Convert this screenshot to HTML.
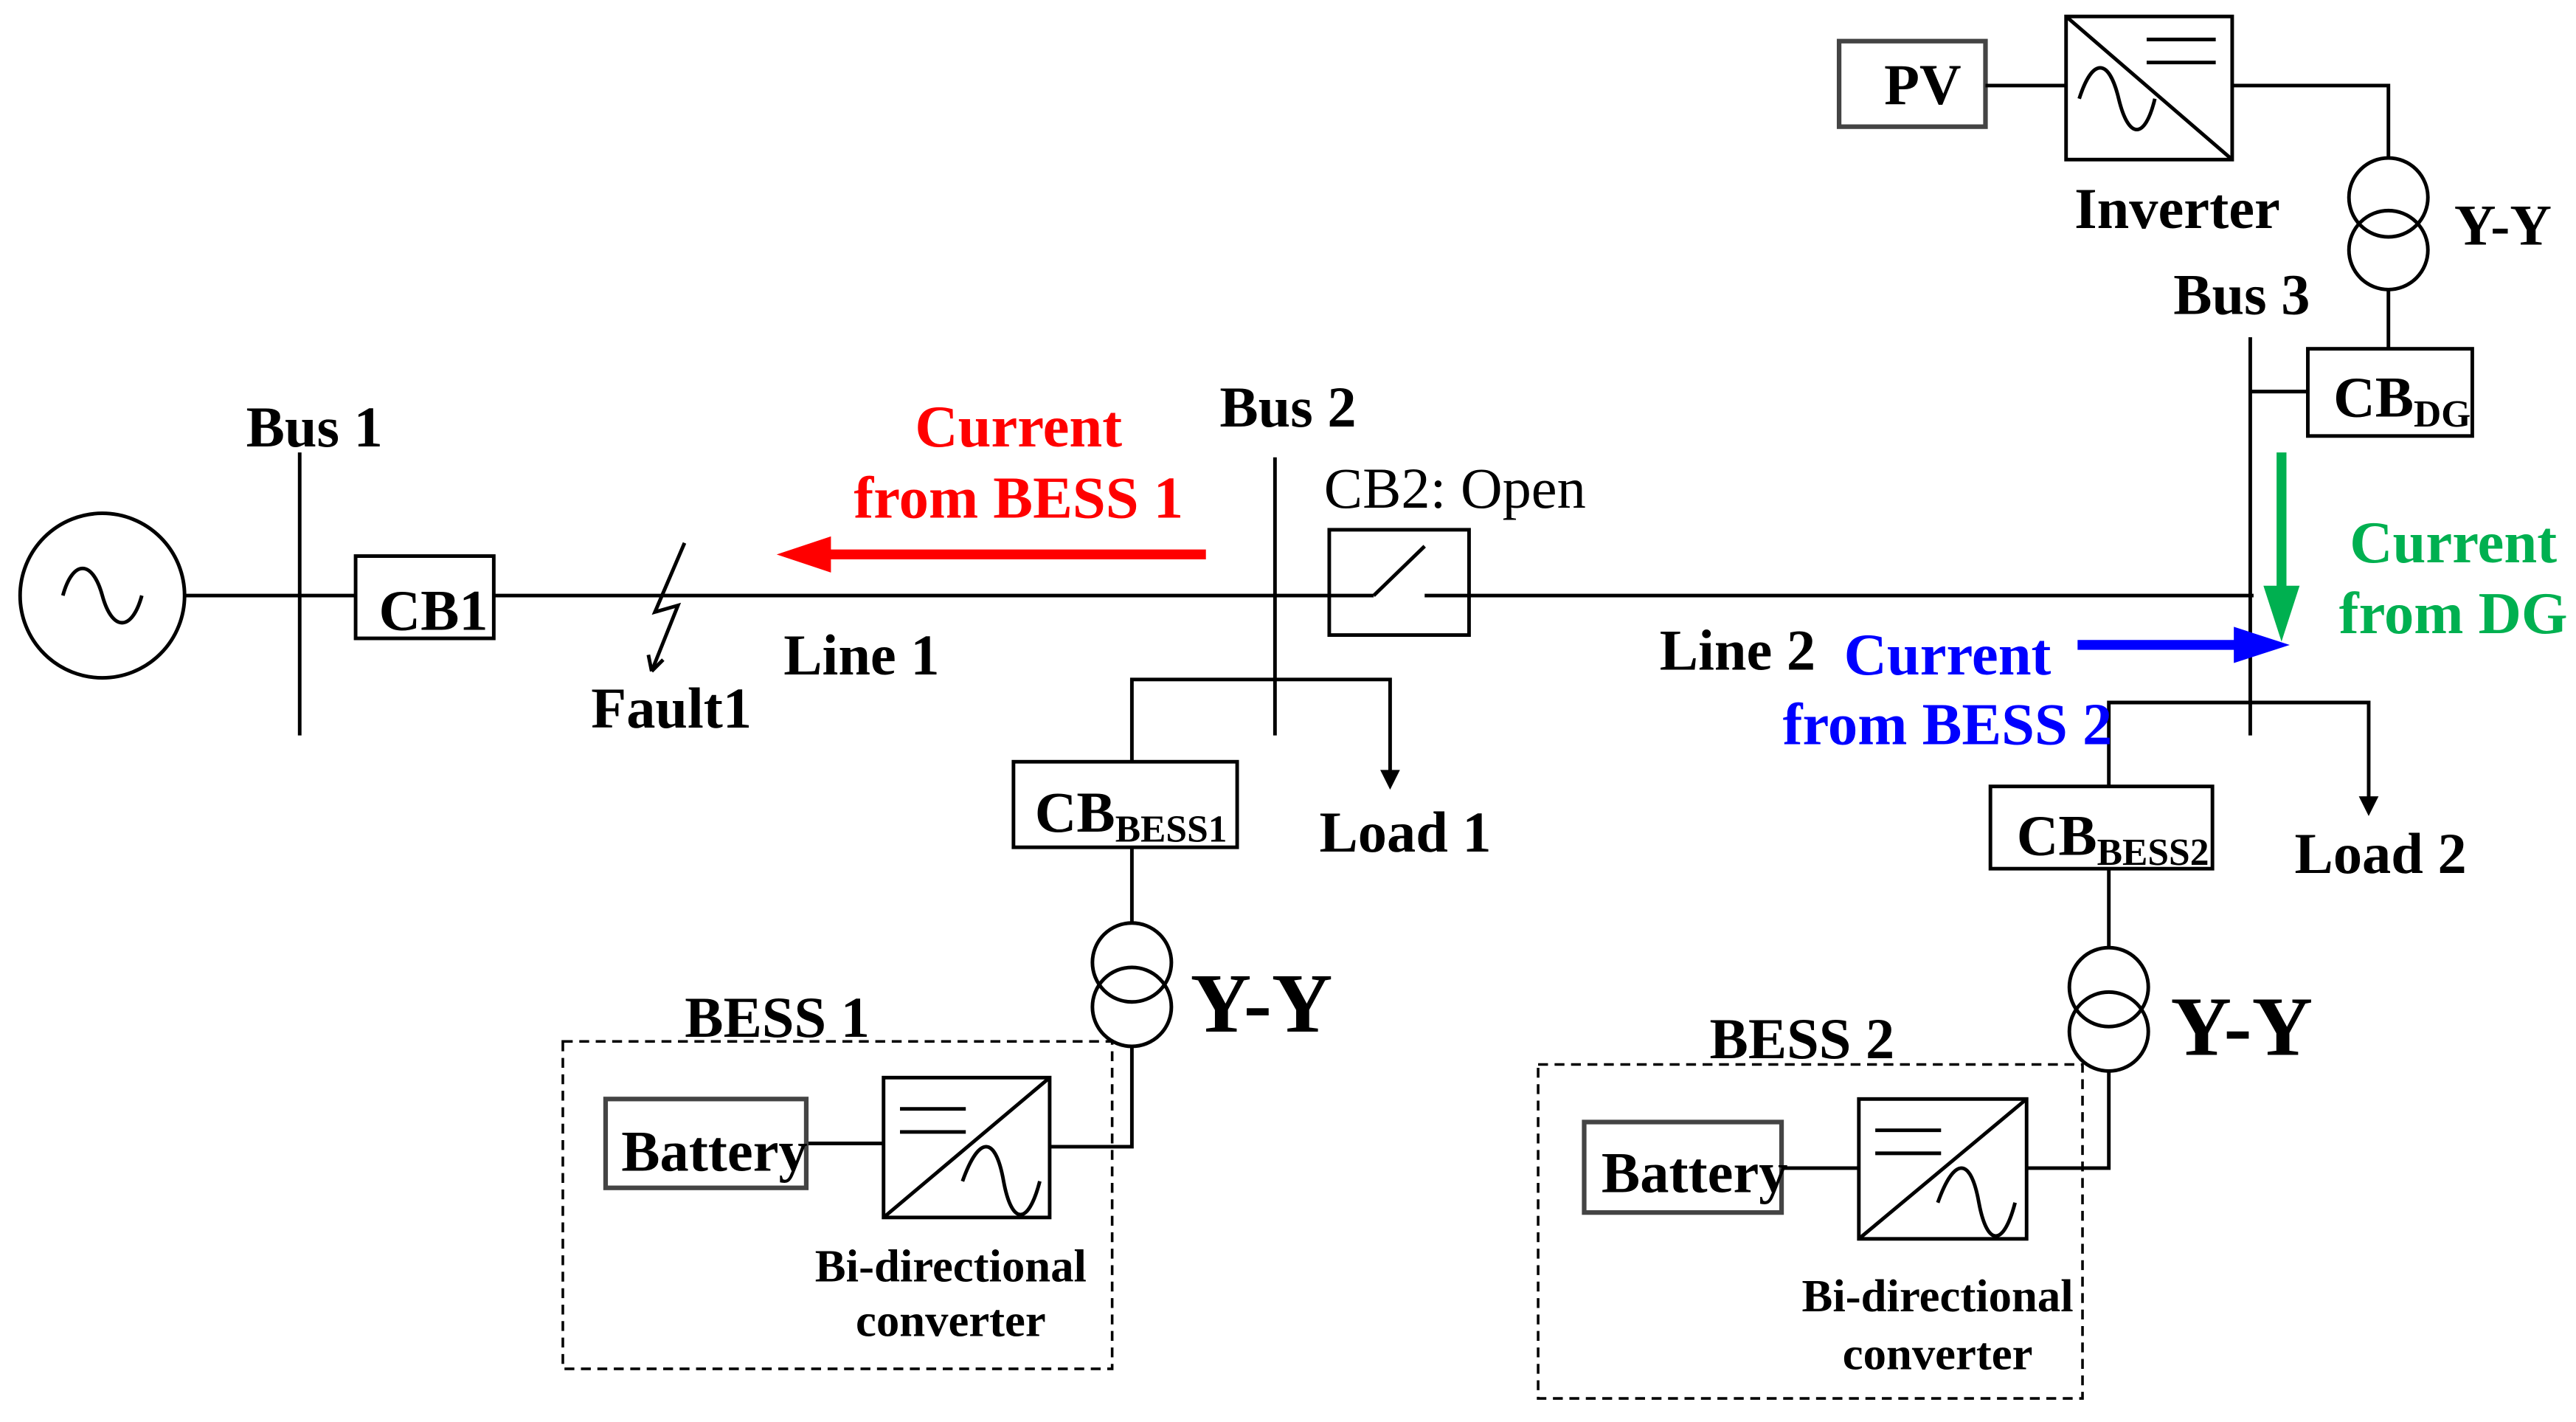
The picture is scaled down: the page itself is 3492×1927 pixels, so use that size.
<!DOCTYPE html>
<html><head><meta charset="utf-8"><style>html,body{margin:0;padding:0;background:#fff}svg{display:block}</style></head>
<body>
<svg width="3492" height="1927" viewBox="0 0 1558 860" xmlns="http://www.w3.org/2000/svg" font-family="Liberation Serif, serif" font-weight="bold">
<g transform="scale(0.995)">
<g stroke="#000" stroke-width="2.2" fill="none">
<circle cx="62" cy="362" r="50"/>
<path d="M38,362 C44,340 56,340 62,362 C68,384 80,384 86,362"/>
<line x1="112" y1="362" x2="216" y2="362"/>
<line x1="300" y1="362" x2="808" y2="362"/>
<line x1="893" y1="362" x2="1370" y2="362"/>
<line x1="182" y1="275" x2="182" y2="447"/>
<rect x="216" y="338" width="84" height="50"/>
<polyline points="416,330 398,372 412,368 396,408"/>
<path d="M396,408 l-2,-10 M396,408 l7,-7"/>
<line x1="775" y1="278" x2="775" y2="447"/>
<rect x="808" y="322" width="85" height="64"/>
<line x1="808" y1="362" x2="835" y2="362"/><line x1="866" y1="362" x2="893" y2="362"/><line x1="835" y1="362" x2="866" y2="332"/>
<polyline points="688,463 688,413 845,413 845,474"/>
<rect x="616" y="463" width="136" height="52"/>
<line x1="688" y1="515" x2="688" y2="561"/>
<circle cx="688" cy="585" r="24"/><circle cx="688" cy="612" r="24"/>
<polyline points="688,636 688,697 638,697"/>
<rect x="537" y="655" width="101" height="85"/>
<line x1="537" y1="740" x2="638" y2="655"/>
<line x1="547" y1="674" x2="587" y2="674"/><line x1="547" y1="688" x2="587" y2="688"/>
<path d="M585,718 C595,690 605,690 610,718 C615,745 625,745 632,718"/>
<rect x="368" y="668" width="122" height="54"/>
<line x1="490" y1="695" x2="537" y2="695"/>
<rect x="342" y="633" width="334" height="199" stroke-dasharray="6,4" stroke-width="1.6"/>
<line x1="1368" y1="205" x2="1368" y2="447"/>
<line x1="1368" y1="238" x2="1403" y2="238"/>
<rect x="1403" y="212" width="100" height="53"/>
<polyline points="1452,212 1452,176"/>
<circle cx="1452" cy="120" r="24"/><circle cx="1452" cy="152" r="24"/>
<polyline points="1452,96 1452,52 1357,52"/>
<rect x="1256" y="10" width="101" height="87"/>
<line x1="1256" y1="10" x2="1357" y2="97"/>
<line x1="1305" y1="24" x2="1347" y2="24"/><line x1="1305" y1="38" x2="1347" y2="38"/>
<path d="M1264,60 C1272,35 1282,35 1288,60 C1294,85 1304,85 1310,60"/>
<rect x="1118" y="25" width="89" height="52" stroke="#444" stroke-width="2.8"/>
<line x1="1207" y1="52" x2="1256" y2="52"/>
<polyline points="1282,478 1282,427 1440,427 1440,490"/>
<rect x="1210" y="478" width="135" height="50"/>
<line x1="1282" y1="528" x2="1282" y2="576"/>
<circle cx="1282" cy="600" r="24"/><circle cx="1282" cy="627" r="24"/>
<polyline points="1282,651 1282,710 1232,710"/>
<rect x="1130" y="668" width="102" height="85"/>
<line x1="1130" y1="753" x2="1232" y2="668"/>
<line x1="1140" y1="687" x2="1180" y2="687"/><line x1="1140" y1="701" x2="1180" y2="701"/>
<path d="M1178,731 C1188,703 1198,703 1203,731 C1208,758 1218,758 1225,731"/>
<rect x="963" y="682" width="120" height="55" stroke="#444" stroke-width="2.8"/>
<line x1="1083" y1="710" x2="1130" y2="710"/>
<rect x="935" y="647" width="331" height="203" stroke-dasharray="6,4" stroke-width="1.6"/>
</g>
<rect x="368" y="668" width="122" height="54" fill="none" stroke="#444" stroke-width="2.8"/>
<path d="M845,480 l-6,-12 h12 z M1440,496 l-6,-12 h12 z"/>
<g stroke-width="6" fill="none">
<line x1="733" y1="337" x2="500" y2="337" stroke="#f00"/>
<line x1="1387" y1="275" x2="1387" y2="360" stroke="#00b050"/>
<line x1="1263" y1="392" x2="1360" y2="392" stroke="#00f"/>
</g>
<path d="M472,337 L505,326 L505,348 z" fill="#f00"/>
<path d="M1387,390 L1376,356 L1398,356 z" fill="#00b050"/>
<path d="M1392,392 L1358,381 L1358,403 z" fill="#00f"/>
</g>
<g font-size="35" text-anchor="middle">
<text x="190" y="270">Bus 1</text>
<text x="262" y="381">CB1</text>
<text x="406" y="440">Fault1</text>
<text x="521" y="408">Line 1</text>
<text x="779" y="258">Bus 2</text>
<text x="880" y="307" font-weight="normal">CB2: Open</text>
<text x="850" y="515">Load 1</text>
<text x="684" y="503">CB<tspan font-size="23" dy="6">BESS1</tspan></text>
<text x="432" y="708">Battery</text>
<text x="470" y="627">BESS 1</text>
<text x="1051" y="405">Line 2</text>
<text x="1356" y="190">Bus 3</text>
<text x="1453" y="252">CB<tspan font-size="23" dy="6">DG</tspan></text>
<text x="1317" y="138">Inverter</text>
<text x="1163" y="63">PV</text>
<text x="1440" y="528">Load 2</text>
<text x="1278" y="517">CB<tspan font-size="23" dy="6">BESS2</tspan></text>
<text x="1025" y="721">Battery</text>
<text x="1090" y="640">BESS 2</text>
<text x="1514" y="148">Y-Y</text>
</g>
<g font-size="51"><text x="720" y="624">Y-Y</text><text x="1313" y="638">Y-Y</text></g>
<g font-size="28" text-anchor="middle">
<text x="575" y="775">Bi-directional</text><text x="575" y="808">converter</text>
<text x="1172" y="793">Bi-directional</text><text x="1172" y="828">converter</text>
</g>
<g font-size="36" text-anchor="middle">
<text x="616" y="270" fill="#f00">Current</text><text x="616" y="313" fill="#f00">from BESS 1</text>
<text x="1484" y="340" fill="#00b050">Current</text><text x="1484" y="383" fill="#00b050">from DG</text>
<text x="1178" y="408" fill="#00f">Current</text><text x="1178" y="450" fill="#00f">from BESS 2</text>
</g>
</svg>
</body></html>
